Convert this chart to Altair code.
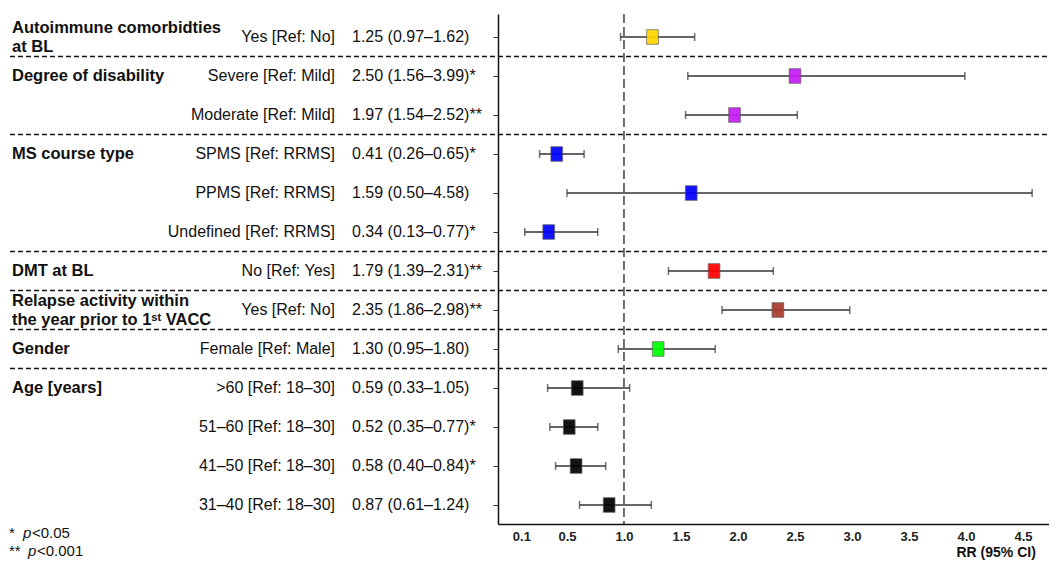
import altair as alt
import pandas as pd

# ---- data ----
groups = ["Autoimmune", "Disability", "Disability", "MS course", "MS course", "MS course",
          "DMT", "Relapse", "Gender", "Age", "Age", "Age", "Age"]
group_labels = ["Autoimmune comorbidties\nat BL", "Degree of disability", "", "MS course type", "", "",
                "DMT at BL", "Relapse activity within\nthe year prior to 1\u02e2\u1d57 VACC", "Gender",
                "Age [years]", "", "", ""]
sub_labels = ["Yes [Ref: No]", "Severe [Ref: Mild]", "Moderate [Ref: Mild]", "SPMS [Ref: RRMS]",
              "PPMS [Ref: RRMS]", "Undefined [Ref: RRMS]", "No [Ref: Yes]", "Yes [Ref: No]",
              "Female [Ref: Male]", ">60 [Ref: 18\u201330]", "51\u201360 [Ref: 18\u201330]",
              "41\u201350 [Ref: 18\u201330]", "31\u201340 [Ref: 18\u201330]"]
rr = [1.25, 2.50, 1.97, 0.41, 1.59, 0.34, 1.79, 2.35, 1.30, 0.59, 0.52, 0.58, 0.87]
lo = [0.97, 1.56, 1.54, 0.26, 0.50, 0.13, 1.39, 1.86, 0.95, 0.33, 0.35, 0.40, 0.61]
hi = [1.62, 3.99, 2.52, 0.65, 4.58, 0.77, 2.31, 2.98, 1.80, 1.05, 0.77, 0.84, 1.24]
sig = ["", "*", "**", "*", "", "*", "**", "**", "", "", "*", "*", ""]

group_order = ["Autoimmune", "Disability", "MS course", "DMT", "Relapse", "Gender", "Age"]
group_colors = ["#FFD700", "#C41BF5", "#0000FF", "#FF0000", "#A83A2C", "#00FF00", "#000000"]

x_ticks = [0.1, 0.5, 1.0, 1.5, 2.0, 2.5, 3.0, 3.5, 4.0, 4.5]

foot_marks = ["*", "**"]
foot_p = ["p", "p"]
foot_vals = ["<0.05", "<0.001"]

# ---- table ----
rows = list(range(len(rr)))
df = pd.DataFrame({
    "row": rows,
    "group": groups,
    "glabel": group_labels,
    "nl": [g.count("\n") for g in group_labels],
    "sub": sub_labels,
    "rr": rr,
    "lo": lo,
    "hi": hi,
    "est": [f"{r:.2f} ({a:.2f}\u2013{b:.2f}){s}" for r, a, b, s in zip(rr, lo, hi, sig)],
})
seps = pd.DataFrame({"pos": [i + 0.5 for i in range(len(groups) - 1) if groups[i] != groups[i + 1]]})
foot = pd.DataFrame({"mark": foot_marks, "p": foot_p, "val": foot_vals, "k": [0, 1]})

W, H = 551, 510
FONT = "Liberation Sans"
xscale = alt.Scale(domain=[-0.105, 4.728], nice=False, zero=False)
yscale = alt.Scale(domain=[-0.59, 12.487], reverse=True, nice=False, zero=False)

y_enc = alt.Y("row:Q", scale=yscale,
              axis=alt.Axis(labels=False, ticks=True, tickSize=5, tickColor="#333",
                            domain=True, domainColor="#111", domainWidth=1.5,
                            grid=False, title=None, values=rows))

base = alt.Chart(df)

ci = base.mark_rule(color="#333", strokeWidth=1.5).encode(
    x=alt.X("lo:Q", scale=xscale,
            axis=alt.Axis(values=x_ticks, format=".1f", ticks=False, grid=False,
                          domain=True, domainColor="#111", domainWidth=1.5,
                          labelFont=FONT, labelFontSize=13, labelFontWeight="bold",
                          labelColor="#222", labelPadding=6,
                          title="RR (95% CI)", titleFont=FONT, titleFontSize=14,
                          titleFontWeight="bold", titleColor="#111",
                          titleX=458, titleY=28.5, titleAlign="left", titleBaseline="middle")),
    x2="hi:Q",
    y=y_enc,
)
cap_lo = base.mark_tick(orient="vertical", size=8, thickness=1.5, color="#333").encode(
    x=alt.X("lo:Q", scale=xscale), y=alt.Y("row:Q", scale=yscale))
cap_hi = base.mark_tick(orient="vertical", size=8, thickness=1.5, color="#333").encode(
    x=alt.X("hi:Q", scale=xscale), y=alt.Y("row:Q", scale=yscale))

refline = alt.Chart(pd.DataFrame({"ref": [1.0]})).mark_rule(
    color="#111", strokeWidth=1.2, strokeDash=[9, 4]).encode(x=alt.X("ref:Q", scale=xscale))

markers = base.mark_point(shape="M-0.8,-1H0.8V1H-0.8Z", size=215, filled=True, opacity=0.92,
                          stroke="#555", strokeWidth=1, strokeOpacity=0.7).encode(
    x=alt.X("rr:Q", scale=xscale),
    y=alt.Y("row:Q", scale=yscale),
    fill=alt.Fill("group:N", scale=alt.Scale(domain=group_order, range=group_colors), legend=None),
)

sep_rules = alt.Chart(seps).mark_rule(color="#111", strokeWidth=1.3, strokeDash=[5, 3]).encode(
    y=alt.Y("pos:Q", scale=yscale), x=alt.value(-488), x2=alt.value(W + 10))

glab1 = base.transform_filter("datum.nl == 0").mark_text(
    font=FONT, fontSize=16.5, fontWeight="bold", align="left", baseline="middle", color="#111").encode(
    x=alt.value(-486), y=alt.Y("row:Q", scale=yscale), text="glabel:N")
glab2 = base.transform_filter("datum.nl == 1").mark_text(
    font=FONT, fontSize=16.5, fontWeight="bold", align="left", baseline="middle", lineBreak="\n",
    lineHeight=19, dy=-9.5, color="#111").encode(
    x=alt.value(-486), y=alt.Y("row:Q", scale=yscale), text="glabel:N")
slab = base.mark_text(font=FONT, fontSize=16, align="right", baseline="middle", color="#111").encode(
    x=alt.value(-163), y=alt.Y("row:Q", scale=yscale), text="sub:N")
elab = base.mark_text(font=FONT, fontSize=16, align="left", baseline="middle", color="#111").encode(
    x=alt.value(-146), y=alt.Y("row:Q", scale=yscale), text="est:N")

fc = alt.Chart(foot)
fy = alt.Y("k:Q", scale=alt.Scale(domain=[0, 1], range=[519, 537]), axis=None)
f1 = fc.mark_text(font=FONT, fontSize=15, align="left", baseline="middle", color="#111").encode(
    x=alt.value(-489), y=fy, text="mark:N")
f2 = fc.mark_text(font=FONT, fontSize=15, fontStyle="italic", align="left", baseline="middle",
                  color="#111").encode(
    x=alt.X("k:Q", scale=alt.Scale(domain=[0, 1], range=[-475, -470]), axis=None),
    y=fy, text="p:N")
f3 = fc.mark_text(font=FONT, fontSize=15, align="left", baseline="middle", color="#111").encode(
    x=alt.X("k:Q", scale=alt.Scale(domain=[0, 1], range=[-466, -461]), axis=None),
    y=fy, text="val:N")

main = alt.layer(ci, cap_lo, cap_hi, refline, sep_rules, markers, glab1, glab2, slab, elab)
foots = alt.layer(f1, f2, f3).resolve_scale(x="independent", y="independent")

chart = alt.layer(main, foots).resolve_scale(x="independent", y="independent").properties(
    width=W, height=H,
    padding={"left": 490, "top": 6, "right": 0, "bottom": 37},
    autosize=alt.AutoSizeParams(type="none"),
).configure_view(stroke=None)

chart.save("out.html", embed_options={"renderer": "svg", "actions": False})
